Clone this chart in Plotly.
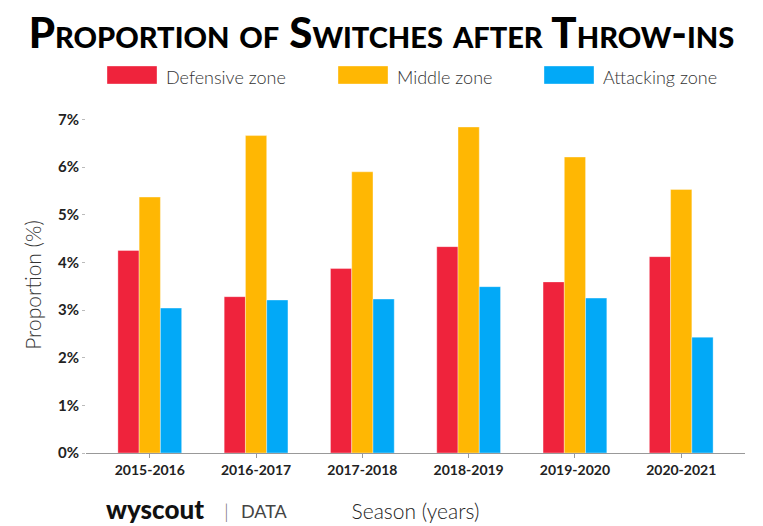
import plotly.graph_objects as go

seasons = ["2015-2016", "2016-2017", "2017-2018", "2018-2019", "2019-2020", "2020-2021"]
defensive = [4.25, 3.28, 3.87, 4.33, 3.59, 4.12]
middle = [5.37, 6.66, 5.90, 6.84, 6.21, 5.53]
attacking = [3.04, 3.21, 3.23, 3.49, 3.25, 2.43]
series_names = ["Defensive zone", "Middle zone", "Attacking zone"]
colors = ["#EF233C", "#FFB703", "#02A9F7"]
y_ticks = [0, 1, 2, 3, 4, 5, 6, 7]
y_tick_labels = [f"{v}%" for v in y_ticks]

# the page has an 8px body margin; shrink figure so it lands on the 763x526 window
OFF = 8
W, H = 763 - OFF, 526 - OFF
ML, MR, MT, MB = 86 - OFF, 18, 117 - OFF, 73
PW, PH = W - ML - MR, H - MT - MB


def px(x):  # window pixel -> paper x
    return (x - OFF - ML) / PW


def py(y):  # window pixel -> paper y
    return (H - MB - (y - OFF)) / PH


FONT = "Lato"

fig = go.Figure()
for name, vals, col in zip(series_names, [defensive, middle, attacking], colors):
    fig.add_trace(go.Bar(
        x=seasons, y=vals, name=name,
        marker=dict(color=col, line=dict(color="rgba(255,255,255,0.6)", width=0.6)),
        showlegend=False,
    ))

# custom legend
leg_x = [107, 338, 544]
for name, col, x0 in zip(series_names, colors, leg_x):
    fig.add_shape(type="rect", xref="paper", yref="paper",
                  x0=px(x0), x1=px(x0 + 50), y0=py(84), y1=py(66),
                  fillcolor=col, line=dict(width=0.6, color="rgba(255,255,255,0.6)"))
    fig.add_annotation(xref="paper", yref="paper", x=px(x0 + 57), y=py(77),
                       text=name, showarrow=False, xanchor="left", yanchor="middle",
                       font=dict(family=FONT, size=18, color="#333", weight=300))

# branding
fig.add_annotation(xref="paper", yref="paper", x=px(105), y=py(509),
                   text="wyscout", showarrow=False, xanchor="left", yanchor="middle",
                   borderpad=0,
                   font=dict(family=FONT, size=26, color="#111", weight=900))
fig.add_annotation(xref="paper", yref="paper", x=px(226), y=py(511),
                   text="|", showarrow=False, xanchor="center", yanchor="middle",
                   font=dict(family=FONT, size=20, color="#777", weight=300))
fig.add_annotation(xref="paper", yref="paper", x=px(239), y=py(511),
                   text="DATA", showarrow=False, xanchor="left", yanchor="middle",
                   font=dict(family=FONT, size=18, color="#444", weight=400))

fig.update_layout(
    width=W, height=H,
    margin=dict(l=ML, r=MR, t=MT, b=MB, autoexpand=False),
    paper_bgcolor="white", plot_bgcolor="white",
    barmode="group", bargap=0.4, bargroupgap=0,
    title=dict(text="Proportion of Switches after Throw-ins",
               x=(381.5 - OFF) / W, xref="container", xanchor="center",
               y=1 - (33 - OFF) / H, yanchor="middle", yref="container",
               font=dict(family=FONT, size=42, color="#000", weight=900, variant="small-caps")),
    font=dict(family=FONT),
    xaxis=dict(
        range=[-0.6, 5.6], showgrid=False, zeroline=False, automargin=False,
        showline=True, linecolor="#999", linewidth=1,
        ticks="outside", ticklen=4, tickcolor="#999",
        tickfont=dict(family=FONT, size=14, color="#222", weight=700),
        title=dict(text="Season (years)", standoff=27,
                   font=dict(family=FONT, size=21, color="#222", weight=300)),
    ),
    yaxis=dict(
        range=[0, 7.05], tickmode="array", tickvals=y_ticks, ticktext=y_tick_labels,
        showgrid=False, zeroline=False, showline=False, automargin=False,
        ticks="outside", ticklen=3, tickcolor="#bbb",
        tickfont=dict(family=FONT, size=15, color="#222", weight=700),
        title=dict(text="Proportion (%)", standoff=10,
                   font=dict(family=FONT, size=21, color="#333", weight=300)),
    ),
)

fig.write_html("out.html")
